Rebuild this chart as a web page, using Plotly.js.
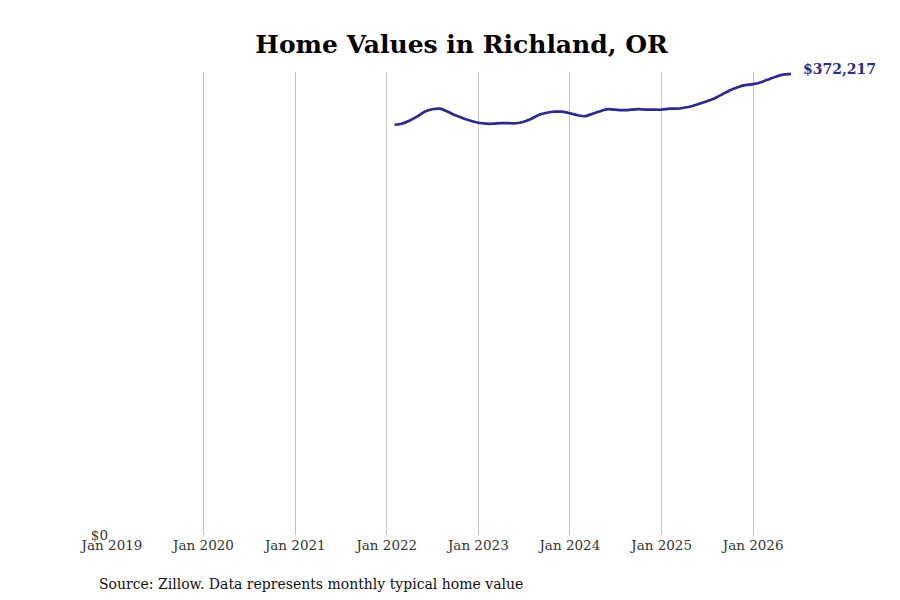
<!DOCTYPE html>
<html>
<head>
<meta charset="utf-8">
<script src="https://cdn.plot.ly/plotly-3.0.1.min.js"></script>
<style>
  body { margin: 0; background: #fff; }
  #chart { width: 900px; height: 600px; }
</style>
</head>
<body>
<div id="chart"></div>
<script>
// monthly typical home value, Feb 2022 - Jun 2026
var months = [
  '2022-02-01', '2022-03-01', '2022-04-01', '2022-05-01', '2022-06-01', '2022-07-01',
  '2022-08-01', '2022-09-01', '2022-10-01', '2022-11-01', '2022-12-01',
  '2023-01-01', '2023-02-01', '2023-03-01', '2023-04-01', '2023-05-01', '2023-06-01',
  '2023-07-01', '2023-08-01', '2023-09-01', '2023-10-01', '2023-11-01', '2023-12-01',
  '2024-01-01', '2024-02-01', '2024-03-01', '2024-04-01', '2024-05-01', '2024-06-01',
  '2024-07-01', '2024-08-01', '2024-09-01', '2024-10-01', '2024-11-01', '2024-12-01',
  '2025-01-01', '2025-02-01', '2025-03-01', '2025-04-01', '2025-05-01', '2025-06-01',
  '2025-07-01', '2025-08-01', '2025-09-01', '2025-10-01', '2025-11-01', '2025-12-01',
  '2026-01-01', '2026-02-01', '2026-03-01', '2026-04-01', '2026-05-01', '2026-06-01'
];
var values = [
  331240, 332050, 334470, 337700, 341740, 343760,
  344170, 341740, 338910, 336490, 334470,
  332850, 332050, 332050, 332450, 332450, 332450,
  333660, 336090, 339320, 340930, 341740, 341740,
  340530, 338910, 338110, 340130, 342150, 343760,
  343360, 342950, 343360, 343760, 343360, 343360,
  343360, 344170, 344170, 344970, 346190, 348210,
  350220, 352650, 355880, 359110, 361540, 363150,
  363960, 365580, 367600, 370020, 371630, 372217
];
var tickDates = ['2019-01-01', '2020-01-01', '2021-01-01', '2022-01-01',
                 '2023-01-01', '2024-01-01', '2025-01-01', '2026-01-01'];
var tickLabels = ['Jan 2019', 'Jan 2020', 'Jan 2021', 'Jan 2022',
                  'Jan 2023', 'Jan 2024', 'Jan 2025', 'Jan 2026'];

var lineColor = '#2e2a8c';
var lastX = months[months.length - 1];
var lastY = values[values.length - 1];

var trace = {
  x: months,
  y: values,
  type: 'scatter',
  mode: 'lines',
  line: { color: lineColor, width: 2.7, shape: 'spline', smoothing: 0.6 },
  hoverinfo: 'skip'
};

var layout = {
  width: 900,
  height: 600,
  paper_bgcolor: '#fff',
  plot_bgcolor: '#fff',
  font: { family: '"DejaVu Serif", serif', size: 13.5, color: '#333' },
  showlegend: false,
  title: {
    text: '<b>Home Values in Richland, OR</b>',
    font: { family: '"DejaVu Serif", serif', size: 25, color: '#000' },
    x: 0.5128,
    xanchor: 'center',
    y: 0.926,
    yanchor: 'middle'
  },
  margin: { l: 112, r: 109, t: 72, b: 65 },
  xaxis: {
    type: 'date',
    range: ['2019-01-01', lastX],
    tickvals: tickDates,
    ticktext: tickLabels,
    showgrid: true,
    gridcolor: '#c4c4c4',
    gridwidth: 1,
    zeroline: false,
    showline: false,
    ticks: '',
    tickfont: { size: 13.5, color: '#333' }
  },
  yaxis: {
    range: [0, 373800],
    tickvals: [0],
    ticktext: ['$0'],
    showgrid: false,
    zeroline: false,
    showline: false,
    ticks: '',
    ticklabelstandoff: 3,
    tickfont: { size: 13.5, color: '#333' }
  },
  annotations: [
    {
      x: lastX,
      y: lastY,
      xref: 'x',
      yref: 'y',
      text: '<b>$' + lastY.toLocaleString('en-US') + '</b>',
      showarrow: false,
      xanchor: 'left',
      yanchor: 'middle',
      xshift: 10,
      yshift: 5,
      font: { family: '"DejaVu Serif", serif', size: 14, color: lineColor }
    },
    {
      x: -0.022,
      y: -0.105,
      xref: 'paper',
      yref: 'paper',
      text: 'Source: Zillow. Data represents monthly typical home value',
      showarrow: false,
      xanchor: 'left',
      yanchor: 'middle',
      font: { family: '"DejaVu Serif", serif', size: 14, color: '#111' }
    }
  ]
};

Plotly.newPlot('chart', [trace], layout, { displayModeBar: false, staticPlot: true });
</script>
</body>
</html>
